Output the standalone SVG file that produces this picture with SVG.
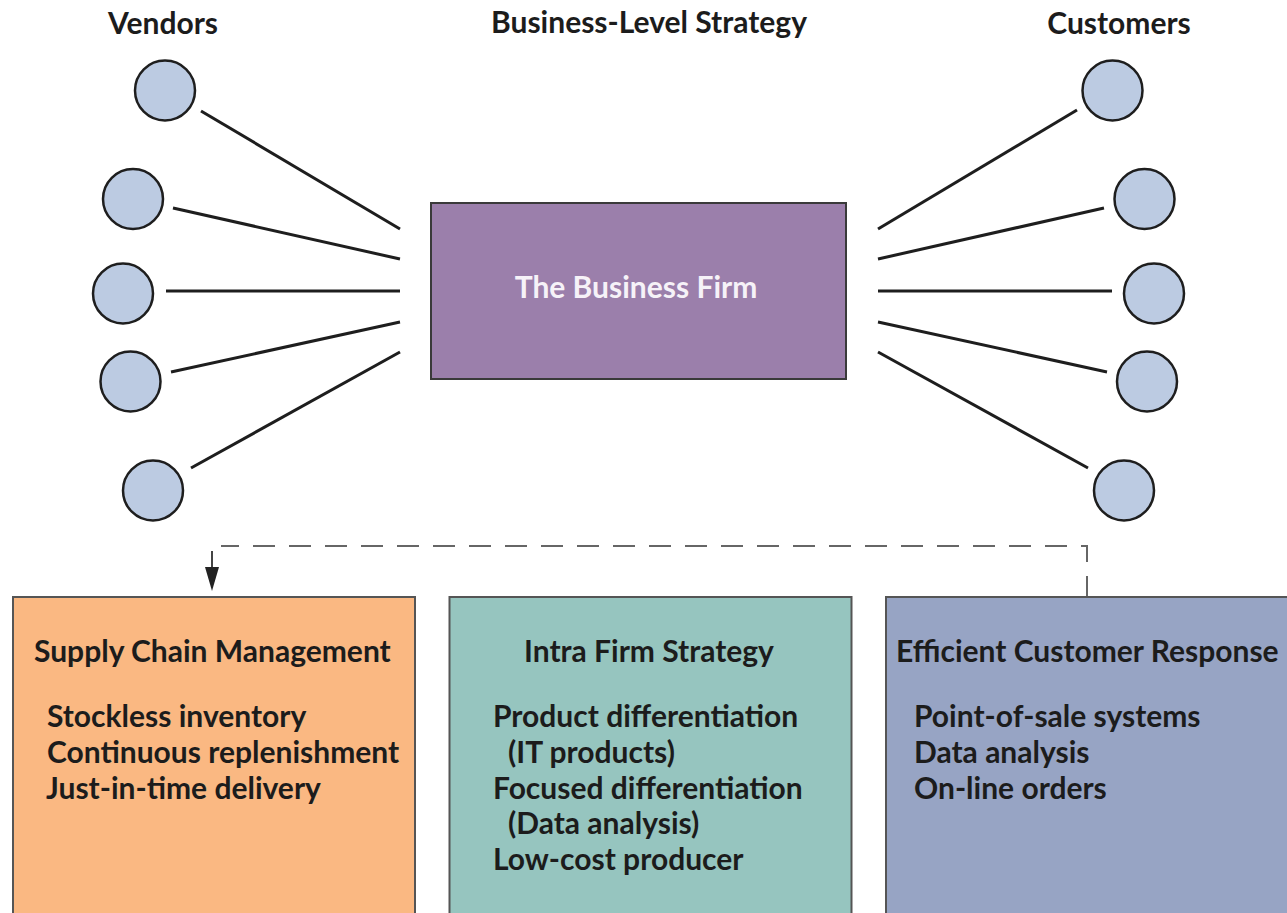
<svg xmlns="http://www.w3.org/2000/svg" width="1287" height="913" viewBox="0 0 1287 913">
<style>
text{font-family:Lato,"Open Sans","Liberation Sans",sans-serif;font-weight:bold;fill:#1c1c1c}
.hdr{font-size:30px;text-anchor:middle}
.t{font-size:30px}
.c{fill:#bccbe2;stroke:#1e1e1e;stroke-width:2.5}
.ln{stroke:#1e1e1e;stroke-width:3;fill:none}
.box{stroke:#555;stroke-width:2}
.dash{stroke:#666;stroke-width:2;fill:none;stroke-dasharray:22 14}
</style>
<defs>
<marker id="ah" viewBox="0 0 24 14" refX="0" refY="7" markerWidth="24" markerHeight="14" markerUnits="userSpaceOnUse" orient="auto">
<path d="M0,0 L24,7 L0,14 Z" fill="#222"/>
</marker>
</defs>
<rect width="1287" height="913" fill="#fff"/>
<text class="hdr" x="163" y="34">Vendors</text>
<text class="hdr" x="649" y="33">Business-Level Strategy</text>
<text class="hdr" x="1119" y="34">Customers</text>

<g id="connectors">
<line class="ln" x1="201" y1="111" x2="400" y2="229"/>
<line class="ln" x1="173" y1="208" x2="400" y2="259"/>
<line class="ln" x1="166" y1="291" x2="400" y2="291"/>
<line class="ln" x1="171" y1="372" x2="400" y2="322"/>
<line class="ln" x1="191" y1="468" x2="400" y2="352"/>
<line class="ln" x1="878" y1="229" x2="1077" y2="110"/>
<line class="ln" x1="878" y1="259" x2="1104" y2="208"/>
<line class="ln" x1="878" y1="291" x2="1112" y2="291"/>
<line class="ln" x1="878" y1="322" x2="1107" y2="372"/>
<line class="ln" x1="878" y1="352" x2="1088" y2="468"/>
<path class="dash" d="M1087,598 L1087,546 L221,546"/>
<line x1="212" y1="551" x2="212" y2="567" stroke="#444" stroke-width="2" marker-end="url(#ah)"/>
</g>

<g id="vendor1"><circle class="c" cx="165" cy="90.5" r="30"/></g>
<g id="vendor2"><circle class="c" cx="133" cy="199" r="30"/></g>
<g id="vendor3"><circle class="c" cx="123" cy="293.5" r="30"/></g>
<g id="vendor4"><circle class="c" cx="130.5" cy="381.5" r="30"/></g>
<g id="vendor5"><circle class="c" cx="153" cy="490.5" r="30"/></g>

<g id="customer1"><circle class="c" cx="1112.5" cy="90.5" r="30"/></g>
<g id="customer2"><circle class="c" cx="1144.5" cy="199" r="30"/></g>
<g id="customer3"><circle class="c" cx="1154" cy="293.5" r="30"/></g>
<g id="customer4"><circle class="c" cx="1147" cy="381.5" r="30"/></g>
<g id="customer5"><circle class="c" cx="1124" cy="490.5" r="30"/></g>

<g id="firm">
<rect x="431" y="203" width="415" height="176" fill="#9b7fab" stroke="#3a3a3a" stroke-width="2"/>
<text x="636" y="298" font-size="30" text-anchor="middle" style="fill:#f6f2f8">The Business Firm</text>
</g>

<g id="scm">
<rect class="box" x="13" y="597" width="402" height="330" fill="#fab882"/>
<text class="t" x="34" y="662">Supply Chain Management</text>
<text class="t" x="47" y="727">Stockless inventory</text>
<text class="t" x="47" y="763">Continuous replenishment</text>
<text class="t" x="46" y="799">Just-in-time delivery</text>
</g>

<g id="intra">
<rect class="box" x="449.5" y="597" width="402" height="330" fill="#96c5bf"/>
<text class="t" x="649" y="662" text-anchor="middle">Intra Firm Strategy</text>
<text class="t" x="493" y="727">Product differentiation</text>
<text class="t" x="508" y="763">(IT products)</text>
<text class="t" x="493" y="799">Focused differentiation</text>
<text class="t" x="508" y="834">(Data analysis)</text>
<text class="t" x="493" y="870">Low-cost producer</text>
</g>

<g id="ecr">
<rect class="box" x="886" y="597" width="420" height="330" fill="#97a4c4"/>
<text class="t" x="896" y="662">Efficient Customer Response</text>
<text class="t" x="914" y="727">Point-of-sale systems</text>
<text class="t" x="914" y="763">Data analysis</text>
<text class="t" x="914" y="799">On-line orders</text>
</g>
</svg>
